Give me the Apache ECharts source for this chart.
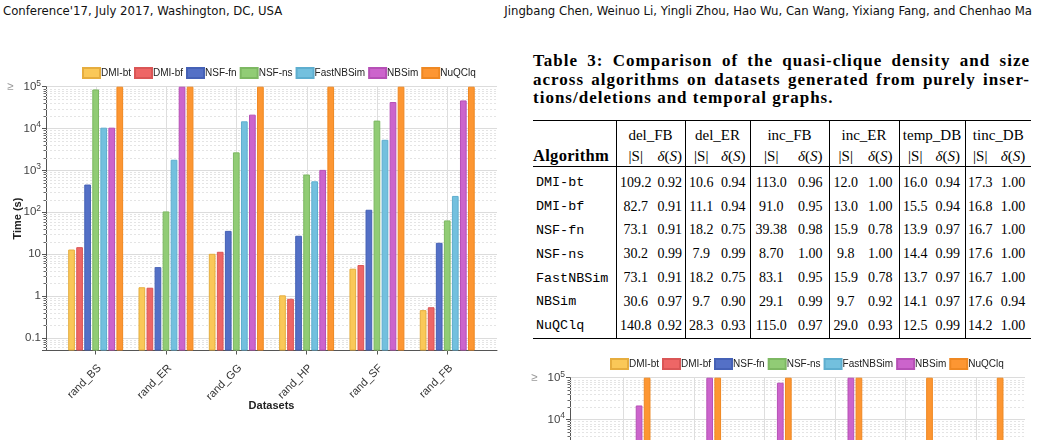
<!DOCTYPE html>
<html>
<head>
<meta charset="utf-8">
<script src="https://cdn.jsdelivr.net/npm/echarts/dist/echarts.min.js"></script>
<style>
html, body { margin: 0; padding: 0; background: #fff; }
body { width: 1038px; height: 440px; overflow: hidden; position: relative; }
.hdr { position: absolute; top: 3px; font: 13px 'Liberation Sans Narrow', 'DejaVu Sans Condensed', sans-serif; color: #111; white-space: nowrap; }
#caption { position: absolute; left: 533px; top: 52px; width: 497px; font: bold 17px 'Liberation Serif', serif; line-height: 18.7px; color: #000; letter-spacing: 1px; }
#caption .jl { text-align: justify; text-align-last: justify; }
#tbl { position: absolute; left: 533px; top: 120px; width: 498px; border-collapse: collapse; table-layout: fixed; border-top: 1.5px solid #000; border-bottom: 1.5px solid #000; color: #000; }
#tbl td { padding: 0; text-align: center; white-space: nowrap; font: 14px 'Liberation Serif', serif; }
#tbl .g { border-left: 1px solid #000; }
#tbl tr.h1 td { height: 23px; font-size: 15px; vertical-align: bottom; padding-bottom: 2px; }
#tbl tr.h2 td { height: 20px; font-size: 15px; border-bottom: 1.5px solid #000; }
#tbl tr.h2 td.alg { font-weight: bold; font-size: 16.5px; text-align: left; letter-spacing: 0.3px; }
#tbl tr.d td { height: 23.8px; }
#tbl tr.first td { padding-top: 4px; }
#tbl td.name { text-align: left; padding-left: 3px; font: 13.4px 'Liberation Mono', 'DejaVu Sans Mono', monospace; }
.chart { position: absolute; }
</style>
</head>
<body>
<div class="hdr" style="left:3px">Conference'17, July 2017, Washington, DC, USA</div>
<div class="hdr" style="right:6px">Jingbang Chen, Weinuo Li, Yingli Zhou, Hao Wu, Can Wang, Yixiang Fang, and Chenhao Ma</div>

<div id="mainChart" class="chart" style="left:0;top:40px;width:520px;height:390px"></div>

<div id="caption">
  <div class="jl">Table 3: Comparison of the quasi-clique density and size</div>
  <div class="jl">across algorithms on datasets generated from purely inser-</div>
  <div>tions/deletions and temporal graphs.</div>
</div>
<table id="tbl"></table>

<div id="nextChart" class="chart" style="left:524px;top:331.3px;width:514px;height:390px"></div>

<script>
// ---- running time (s) ----
var datasets = ['rand_BS', 'rand_ER', 'rand_GG', 'rand_HP', 'rand_SF', 'rand_FB'];
var algorithms = ['DMI-bt', 'DMI-bf', 'NSF-fn', 'NSF-ns', 'FastNBSim', 'NBSim', 'NuQClq'];
var dmiBt     = [12.9, 1.62, 10.2, 1.04, 4.5, 0.46];
var dmiBf     = [14.7, 1.58, 11.4, 0.86, 5.5, 0.54];
var nsfFn     = [460, 4.9, 36, 27.5, 115, 18.7];
var nsfNs     = [86000, 105, 2700, 800, 15500, 64];
var fastNbsim = [10500, 1800, 14900, 550, 5400, 246];
var nbsim     = [10500, 100000, 21500, 1030, 43000, 47000];
var nuqclq    = [100000, 100000, 100000, 100000, 100000, 100000];

// second figure, only its top edge is on the page
var datasets2  = ['d1', 'd2', 'd3', 'd4', 'd5', 'd6'];
var nbsim2     = [21700, 100000, 76000, 100000, null, null];
var nuqclq2    = [100000, 100000, 100000, 100000, 100000, 100000];
var hidden2    = [null, null, null, null, null, null];

// y ticks (powers of ten) and their labels
var yMin = 0.05, yMax = 100000;
var yTickExp  = [-1, 0, 1, 2, 3, 4, 5];
var yTickText = ['{b|0.1}', '{b|1}', '{b|10}', '{b|10}{s|2}', '{b|10}{s|3}', '{b|10}{s|4}', '{g|≥}{b|10}{s|5}'];

// ---- Table 3 ----
var tableGroups = ['del_FB', 'del_ER', 'inc_FB', 'inc_ER', 'temp_DB', 'tinc_DB'];
var tableRows = [
	['DMI-bt',    '109.2', '0.92', '10.6', '0.94', '113.0', '0.96', '12.0', '1.00', '16.0', '0.94', '17.3', '1.00'],
	['DMI-bf',    '82.7',  '0.91', '11.1', '0.94', '91.0',  '0.95', '13.0', '1.00', '15.5', '0.94', '16.8', '1.00'],
	['NSF-fn',    '73.1',  '0.91', '18.2', '0.75', '39.38', '0.98', '15.9', '0.78', '13.9', '0.97', '16.7', '1.00'],
	['NSF-ns',    '30.2',  '0.99', '7.9',  '0.99', '8.70',  '1.00', '9.8',  '1.00', '14.4', '0.99', '17.6', '1.00'],
	['FastNBSim', '73.1',  '0.91', '18.2', '0.75', '83.1',  '0.95', '15.9', '0.78', '13.7', '0.97', '16.7', '1.00'],
	['NBSim',     '30.6',  '0.97', '9.7',  '0.90', '29.1',  '0.99', '9.7',  '0.92', '14.1', '0.97', '17.6', '0.94'],
	['NuQClq',    '140.8', '0.92', '28.3', '0.93', '115.0', '0.97', '29.0', '0.93', '12.5', '0.99', '14.2', '1.00']
];
var colWidths = [83, 39, 30, 32, 33, 42, 37, 33, 37, 32, 34, 30, 36];

var colors  = ['#fac858', '#ee6666', '#5470c6', '#91cc75', '#73c0de', '#cc64cc', '#fd9632'];
var borders = ['#e6ad3e', '#da5656', '#4561b6', '#7db862', '#5eaecf', '#b650b6', '#ef8822'];

function buildTable(){
	var html = '<colgroup>';
	for(var i=0;i<colWidths.length;i++){
		html += '<col style="width:'+colWidths[i]+'px">';
	}
	html += '</colgroup><tr class="h1"><td></td>';
	for(var i=0;i<tableGroups.length;i++){
		html += '<td colspan="2" class="g">'+tableGroups[i]+'</td>';
	}
	html += '</tr><tr class="h2"><td class="alg">Algorithm</td>';
	for(var i=0;i<tableGroups.length;i++){
		html += '<td class="g">|S|</td><td><i>δ</i>(<i>S</i>)</td>';
	}
	html += '</tr>';
	for(var r=0;r<tableRows.length;r++){
		html += '<tr class="d'+(r==0 ? ' first' : '')+'"><td class="name">'+tableRows[r][0]+'</td>';
		for(var c=1;c<tableRows[r].length;c++){
			html += '<td'+(c % 2 == 1 ? ' class="g"' : '')+'>'+tableRows[r][c]+'</td>';
		}
		html += '</tr>';
	}
	document.getElementById('tbl').innerHTML = html;
}

function yLabel(v){
	var l = Math.log10(v);
	var e = Math.round(l);
	if(Math.abs(l - e) > 1e-6) return '';
	var idx = yTickExp.indexOf(e);
	return idx < 0 ? '' : yTickText[idx];
}

// dashed minor lines + small ticks at 2..9 x 10^k
var minorValues = [];
for(var k=-2;k<5;k++){
	for(var m=2;m<10;m++){
		var v = m * Math.pow(10, k);
		if(v > yMin * 1.0001 && v < yMax) minorValues.push([0, v]);
	}
}
function renderMinor(params, api){
	var cs = params.coordSys;
	var y = Math.round(api.coord([0, api.value(1)])[1]) + 0.5;
	return {type: 'group', children: [
		{type: 'line', shape: {x1: cs.x, y1: y, x2: cs.x + cs.width, y2: y},
			style: {stroke: '#e4e4e4', lineWidth: 1, lineDash: [2, 2]}},
		{type: 'line', shape: {x1: cs.x - 2.5, y1: y, x2: cs.x, y2: y},
			style: {stroke: '#666', lineWidth: 1}}
	]};
}
// light vertical rule through each dataset
function renderCenter(params, api){
	var cs = params.coordSys;
	var x = Math.round(api.coord([api.value(0), yMax])[0]) + 0.5;
	return {type: 'line', shape: {x1: x, y1: cs.y, x2: x, y2: cs.y + cs.height},
		style: {stroke: '#dedede', lineWidth: 1}};
}

function makeChart(id, cats, seriesData, lay){
	var chart = echarts.init(document.getElementById(id));
	var series = [];
	for(var i=0;i<algorithms.length;i++){
		series.push({
			name: algorithms[i],
			type: 'bar',
			xAxisIndex: 1,
			yAxisIndex: 1,
			data: seriesData[i],
			barWidth: 6.7,
			barGap: '20%',
			itemStyle: {color: colors[i], borderColor: borders[i], borderWidth: 1},
			z: 3
		});
	}
	series.push({type: 'custom', xAxisIndex: 0, yAxisIndex: 0, data: minorValues,
		renderItem: renderMinor, silent: true, z: 1});
	series.push({type: 'custom', xAxisIndex: 1, yAxisIndex: 1, data: cats.map(function(c){ return [c, yMax]; }),
		renderItem: renderCenter, silent: true, z: 1});

	var option = {
		animation: false,
		textStyle: {fontFamily: 'Liberation Sans, Arial, sans-serif'},
		legend: {
			data: algorithms,
			left: lay.legendLeft,
			top: 22,
			icon: 'rect',
			itemWidth: 17,
			itemHeight: 10,
			itemGap: 3,
			textStyle: {fontSize: 10, color: '#222', padding: [0, 0, 0, -4]}
		},
		grid: [
			{left: 46, right: lay.right, top: 46.7, bottom: 79.5},
			{left: lay.bandLeft, right: lay.bandRight, top: 46.7, bottom: 79.5}
		],
		xAxis: [
			{
				type: 'value', gridIndex: 0, min: 0, max: 1,
				axisLine: {show: true, lineStyle: {color: '#555'}},
				axisTick: {show: false}, axisLabel: {show: false}, splitLine: {show: false},
				name: 'Datasets', nameLocation: 'middle', nameGap: 50, nameMoveOverlap: false,
				nameTextStyle: {fontSize: 11, fontWeight: 'bold', color: '#222'}
			},
			{
				type: 'category', gridIndex: 1, data: cats,
				axisLine: {show: false},
				axisTick: {show: true, alignWithLabel: true, length: 4, lineStyle: {color: '#555'}},
				axisLabel: {rotate: 45, fontSize: 11, color: '#333', margin: 12, verticalAlign: 'top'},
				splitLine: {show: false}
			}
		],
		yAxis: [
			{
				type: 'log', gridIndex: 0, min: yMin, max: yMax, splitNumber: 6,
				axisLine: {show: true, lineStyle: {color: '#555'}},
				axisTick: {show: true, length: 4, lineStyle: {color: '#555'}},
				axisLabel: {formatter: yLabel, margin: 5, rich: {
					b: {fontSize: 11.5, color: '#444', lineHeight: 16},
					s: {fontSize: 8.5, color: '#444', lineHeight: 9, verticalAlign: 'top'},
					g: {fontSize: 11.5, color: '#999', lineHeight: 16, padding: [0, 10, 0, 0]}
				}},
				splitLine: {show: true, lineStyle: {color: '#dcdcdc', width: 1}},
				name: 'Time (s)', nameLocation: 'middle', nameGap: 23, nameMoveOverlap: false,
				nameTextStyle: {fontSize: 11, fontWeight: 'bold', color: '#222'}
			},
			{
				type: 'log', gridIndex: 1, min: yMin, max: yMax, startValue: yMin, show: false
			}
		],
		series: series
	};
	chart.setOption(option);
	return chart;
}

buildTable();
makeChart('mainChart', datasets, [dmiBt, dmiBf, nsfFn, nsfNs, fastNbsim, nbsim, nuqclq],
	{legendLeft: 77, right: 23, bandLeft: 60.5, bandRight: 37.6});
makeChart('nextChart', datasets2, [hidden2, hidden2, hidden2, hidden2, hidden2, nbsim2, nuqclq2],
	{legendLeft: 81, right: 13, bandLeft: 63.7, bandRight: 26.7});
</script>
</body>
</html>
